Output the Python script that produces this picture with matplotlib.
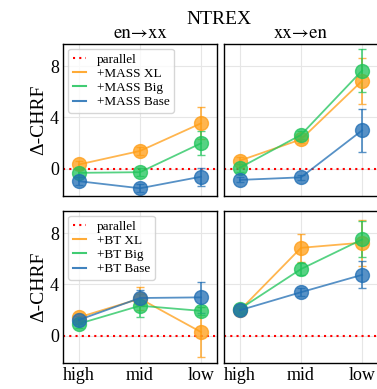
import matplotlib
matplotlib.use("Agg")
import matplotlib.pyplot as plt
from matplotlib.lines import Line2D
import numpy as np

plt.rcParams['font.family'] = ['Liberation Serif', 'DejaVu Serif']
plt.rcParams['mathtext.fontset'] = 'stix'

levels = ["high", "mid", "low"]

# top row: MASS, bottom row: BT ; [en->xx, xx->en]
mass_xl = [[0.35, 1.4, 3.55], [0.65, 2.3, 6.85]]
mass_big = [[-0.3, -0.25, 2.0], [0.1, 2.65, 7.65]]
mass_base = [[-0.95, -1.5, -0.6], [-0.85, -0.65, 3.0]]
mass_xl_err = [[0.3, 0.3, 1.25], [0.3, 0.3, 1.8]]
mass_big_err = [[0.3, 0.3, 0.95], [0.3, 0.3, 1.65]]
mass_base_err = [[0.3, 0.3, 0.7], [0.2, 0.2, 1.65]]

bt_xl = [[1.45, 2.9, 0.3], [2.0, 6.85, 7.25]]
bt_big = [[0.95, 2.35, 1.95], [2.1, 5.2, 7.5]]
bt_base = [[1.25, 2.95, 3.0], [2.0, 3.4, 4.75]]
bt_xl_err = [[0.3, 0.9, 1.95], [0.2, 1.1, 1.8]]
bt_big_err = [[0.3, 0.9, 0.3], [0.2, 0.5, 1.4]]
bt_base_err = [[0.3, 0.6, 1.2], [0.2, 0.3, 1.05]]

c_xl = "#ff9d14"
c_big = "#1ec45a"
c_base = "#1f6db3"

fig = plt.figure(figsize=(3.77, 3.89), dpi=100)

L = [63/377, 224/377]
W = 154/377
B = [193/389, 26/389]
H = 152.5/389

rows = [
    (mass_xl, mass_big, mass_base, mass_xl_err, mass_big_err, mass_base_err,
     ["+MASS XL", "+MASS Big", "+MASS Base"]),
    (bt_xl, bt_big, bt_base, bt_xl_err, bt_big_err, bt_base_err,
     ["+BT XL", "+BT Big", "+BT Base"]),
]

x = np.arange(len(levels))
for r, (xl, big, base, xle, bige, basee, names) in enumerate(rows):
    for c in range(2):
        ax = fig.add_axes([L[c], B[r], W, H])
        ax.grid(True, color="#e6e6e6", linewidth=0.8)
        ax.set_axisbelow(True)
        ax.axhline(0, color="red", linestyle=(0, (1, 2)), linewidth=1.5, zorder=1)
        for vals, errs, col in [(xl, xle, c_xl), (big, bige, c_big), (base, basee, c_base)]:
            ax.errorbar(x, vals[c], yerr=errs[c], color=col, linewidth=1.3,
                        marker="o", markersize=10, alpha=0.75, capsize=3,
                        markeredgewidth=1.0)
        ax.set_xlim(-0.26, 2.26)
        ax.set_ylim(-2.1, 9.75)
        ax.set_yticks([0, 4, 8])
        ax.set_xticks(x)
        ax.tick_params(length=0, labelsize=13, pad=3)
        for s in ax.spines.values():
            s.set_linewidth(1.0)
        if c == 1:
            ax.set_yticklabels([])
        else:
            ax.set_ylabel("Δ-CHRF", fontsize=14, labelpad=2)
            handles = [Line2D([], [], color="red", linestyle=(0, (1, 2)), linewidth=1.5)]
            handles += [Line2D([], [], color=col, linewidth=1.5, alpha=0.85)
                        for col in (c_xl, c_big, c_base)]
            ax.legend(handles, ["parallel"] + names, loc="upper left", fontsize=9.5,
                      handlelength=1.0, handletextpad=0.8, borderpad=0.35,
                      labelspacing=0.15, borderaxespad=0.4, fancybox=True,
                      framealpha=0.8)
        if r == 0:
            ax.set_xticklabels([])
            ax.set_title("en→xx" if c == 0 else "xx→en", fontsize=13.5, pad=4,
                         family="STIXGeneral")
        else:
            ax.set_xticklabels(levels)

fig.text(219/377, 1 - 20/389, "NTREX", ha="center", va="center", fontsize=14)

fig.savefig("out.png", dpi=100)
